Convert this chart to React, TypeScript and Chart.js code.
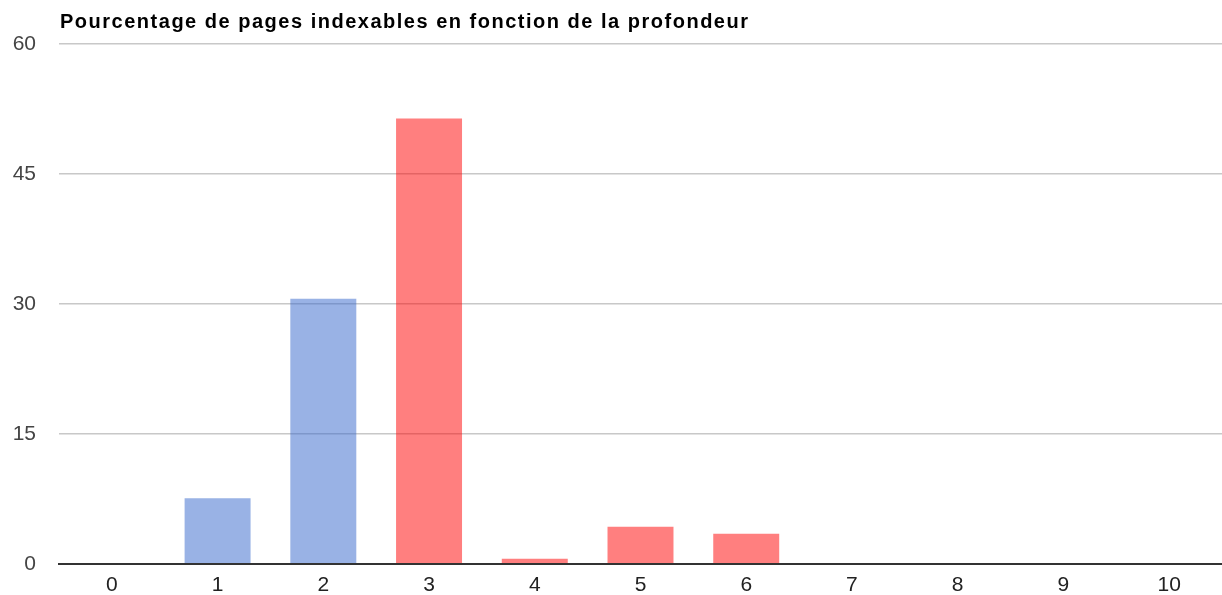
import React, { useEffect, useRef } from "react";
import { Chart, registerables } from "chart.js";

Chart.register(...registerables);

const TITLE = "Pourcentage de pages indexables en fonction de la profondeur";
const categories = ["0", "1", "2", "3", "4", "5", "6", "7", "8", "9", "10"];
const blueValues = [0, 7.6, 30.6, 0, 0, 0, 0, 0, 0, 0, 0];
const redValues = [0, 0, 0, 51.4, 0.6, 4.3, 3.5, 0, 0, 0, 0];
const yTicks = [0, 15, 30, 45, 60];

const FONT = "'Liberation Sans', Arial, sans-serif";
const TITLE_WIDTH = 688;

const titlePlugin = {
  id: "leftTitle",
  afterDraw(chart: any) {
    const ctx = chart.ctx;
    ctx.save();
    ctx.font = `bold 20px ${FONT}`;
    ctx.fillStyle = "#000";
    ctx.textAlign = "left";
    ctx.textBaseline = "middle";
    const w = ctx.measureText(TITLE).width;
    const sp = Math.max(0, (TITLE_WIDTH - w) / (TITLE.length - 1));
    (ctx as any).letterSpacing = `${sp}px`;
    ctx.fillText(TITLE, chart.chartArea.left + 1, 22);
    ctx.restore();
  },
};

export default function App() {
  const ref = useRef<HTMLCanvasElement | null>(null);
  useEffect(() => {
    if (!ref.current) return;
    const chart = new Chart(ref.current, {
      type: "bar",
      data: {
        labels: categories,
        datasets: [
          {
            label: "A",
            data: blueValues,
            backgroundColor: "rgba(51,102,204,0.5)",
            barPercentage: 0.624,
            categoryPercentage: 1,
          },
          {
            label: "B",
            data: redValues,
            backgroundColor: "rgba(255,0,0,0.5)",
            barPercentage: 0.624,
            categoryPercentage: 1,
          },
        ],
      },
      options: {
        responsive: false,
        animation: false,
        layout: { padding: { top: 44, right: 0, bottom: 0, left: 0 } },
        plugins: {
          legend: { display: false },
          title: { display: false },
          tooltip: { enabled: false },
        },
        scales: {
          x: {
            stacked: true,
            grid: { display: false, drawTicks: false },
            border: { display: true, color: "#333333", width: 2, z: 1 },
            ticks: {
              color: "#222222",
              font: { family: FONT, size: 21, lineHeight: 1 },
              padding: 10.5,
              maxRotation: 0,
            },
            afterFit: (s: any) => {
              s.height = 31;
            },
          },
          y: {
            stacked: true,
            min: 0,
            max: 60,
            afterBuildTicks: (s: any) => {
              s.ticks = yTicks.map((v) => ({ value: v }));
            },
            grid: {
              color: "#c8c8c8",
              lineWidth: 1.5,
              drawTicks: false,
            },
            border: { display: false },
            ticks: {
              color: "#444444",
              font: { family: FONT, size: 21 },
              padding: 23,
            },
            afterFit: (s: any) => {
              s.width = 59;
              s.paddingTop = 0;
              s.paddingBottom = 0;
            },
          },
        },
      },
      plugins: [titlePlugin],
    });
    return () => chart.destroy();
  }, []);
  return (
    <div style={{ position: "absolute", left: 0, top: 0, width: 1222, height: 595, background: "#fff" }}>
      <canvas ref={ref} width={1222} height={595} />
    </div>
  );
}
